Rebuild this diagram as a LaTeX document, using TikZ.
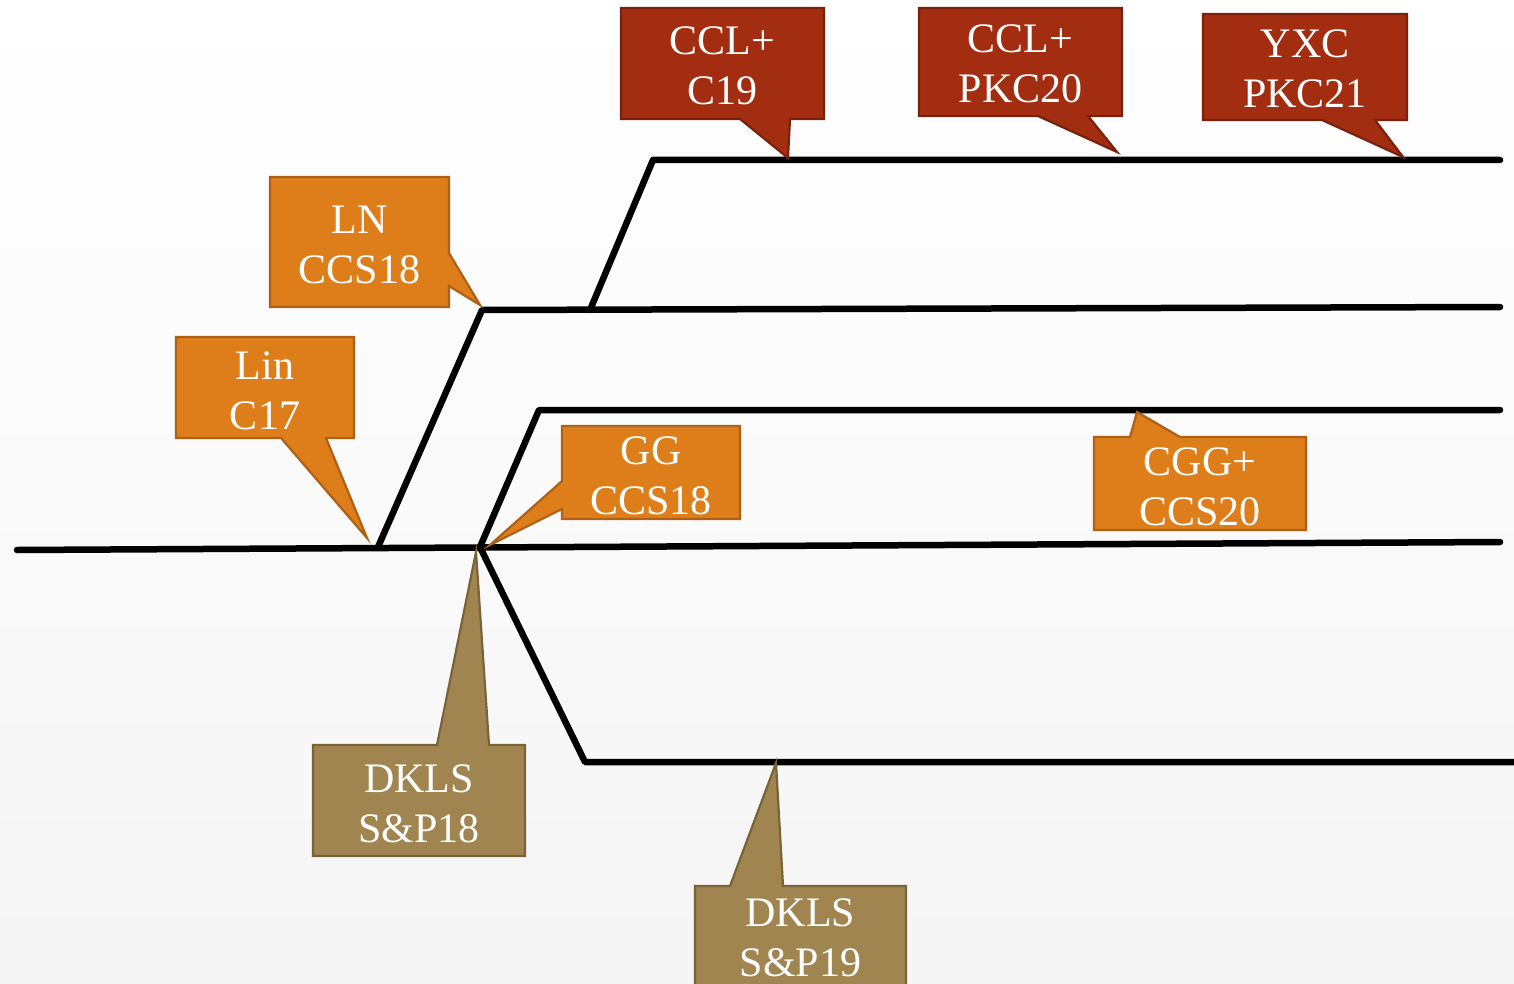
\documentclass[tikz,border=0pt]{standalone}
\usepackage{fontspec}
\setmainfont{Liberation Serif}
\begin{document}
\begin{tikzpicture}[x=1pt,y=-1pt,
  track/.style={line width=6.5pt,black,line cap=round,line join=round},
  calloutbase/.style={line width=2.2pt,line join=miter},
  rbox/.style={calloutbase,fill={rgb,255:red,163;green,45;blue,17},draw={rgb,255:red,122;green,33;blue,14}},
  obox/.style={calloutbase,fill={rgb,255:red,222;green,126;blue,27},draw={rgb,255:red,174;green,96;blue,22}},
  bbox/.style={calloutbase,fill={rgb,255:red,160;green,133;blue,80},draw={rgb,255:red,121;green,100;blue,57}},
  label/.style={text=white,align=center,inner sep=0pt,font=\fontsize{42}{50}\selectfont}]

% background
\useasboundingbox (0,0) rectangle (1514,984);
\fill[top color=white,bottom color=black!4] (0,0) rectangle (1514,984);

% junction points of the tracks
\coordinate (m0) at (17,550);
\coordinate (m1) at (1500,542);
\coordinate (a0) at (378,547);
\coordinate (a1) at (482,310);
\coordinate (a2) at (1500,307);
\coordinate (b0) at (590,310);
\coordinate (b1) at (653,160);
\coordinate (b2) at (1500,160);
\coordinate (j)  at (480,547);
\coordinate (c1) at (539,410);
\coordinate (c2) at (1500,410);
\coordinate (d1) at (585,762);
\coordinate (d2) at (1520,762);

% tracks
\draw[track] (m0) -- (m1);
\draw[track] (a0) -- (a1) -- (a2);
\draw[track] (b0) -- (b1) -- (b2);
\draw[track] (j) -- (c1) -- (c2);
\draw[track] (j) -- (d1) -- (d2);

% top callouts
\draw[rbox] (621,8) -- (824,8) -- (824,119) -- (790,119) -- (788,158) -- (740,119) -- (621,119) -- cycle;
\node[label] (ccl19) at (722.5,65.5) {CCL+\\C19};
\draw[rbox] (919,8) -- (1122,8) -- (1122,116) -- (1088,116) -- (1117,152) -- (1038,116) -- (919,116) -- cycle;
\node[label] (ccl20) at (1020.5,64) {CCL+\\PKC20};
\draw[rbox] (1203,14) -- (1407,14) -- (1407,120) -- (1375,120) -- (1403,157) -- (1322,120) -- (1203,120) -- cycle;
\node[label] (yxc21) at (1305,69) {YXC\\PKC21};

% middle callouts
\draw[obox] (270,177) -- (449,177) -- (449,253) -- (480,305) -- (449,286) -- (449,307) -- (270,307) -- cycle;
\node[label] (ln18) at (359.5,245) {LN\\CCS18};
\draw[obox] (176,337) -- (354,337) -- (354,438) -- (326,438) -- (367,538) -- (281,438) -- (176,438) -- cycle;
\node[label] (lin17) at (265,391) {Lin\\C17};
\draw[obox] (562,426) -- (740,426) -- (740,519) -- (562,519) -- (562,509) -- (490,545) -- (562,481) -- cycle;
\node[label] (gg18) at (651,476) {GG\\CCS18};
\draw[obox] (1094,437) -- (1130,437) -- (1137,412) -- (1180,437) -- (1306,437) -- (1306,530) -- (1094,530) -- cycle;
\node[label] (cgg20) at (1200,487) {CGG+\\CCS20};

% bottom callouts
\draw[bbox] (313,745) -- (437,745) -- (476,552) -- (489,745) -- (525,745) -- (525,856) -- (313,856) -- cycle;
\node[label] (dkls18) at (419,804) {DKLS\\S\&P18};
\draw[bbox] (695,886) -- (730,886) -- (776,763) -- (783,886) -- (906,886) -- (906,995) -- (695,995) -- cycle;
\node[label] (dkls19) at (800.5,938) {DKLS\\S\&P19};
\end{tikzpicture}
\end{document}
